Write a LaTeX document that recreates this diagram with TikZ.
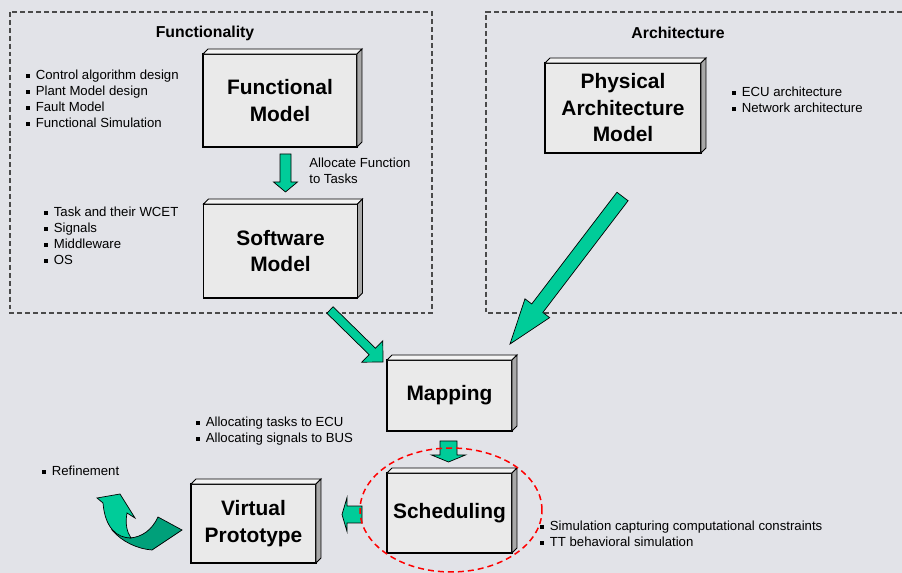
\documentclass[tikz,border=0pt]{standalone}
\usepackage{fontspec}
\setmainfont{Liberation Sans}
\usetikzlibrary{calc,positioning}
\definecolor{bggray}{HTML}{E2E3E8}
\definecolor{facegray}{HTML}{EAEAEA}
\definecolor{sidegray}{HTML}{A8A8A8}
\definecolor{topgray}{HTML}{F4F4F4}
\definecolor{arrgreen}{HTML}{00CC99}
\definecolor{arrdark}{HTML}{00A07A}
\definecolor{framegray}{HTML}{4A4A4A}

% small square bullet
\newcommand{\sq}{\raisebox{0.32ex}{\rule{2.1pt}{2.1pt}}\hspace{3.3pt}}
% block arrow: tail, tip, shaft half width, head half width, head length
\newcommand{\fatarrow}[5]{%
  \path ($(#2)!#5!(#1)$) coordinate (hb);
  \draw[fatarr] ($(#1)!#3!90:(#2)$) -- ($(hb)!#3!90:(#2)$) -- ($(hb)!#4!90:(#2)$) -- (#2)
    -- ($(hb)!#4!-90:(#2)$) -- ($(hb)!#3!-90:(#2)$) -- ($(#1)!#3!-90:(#2)$) -- cycle;}

\begin{document}
\begin{tikzpicture}[
    x=0.02cm, y=-0.02cm,
    modbox/.style={rectangle, draw=black, fill=facegray, line width=0.6pt, inner sep=0pt, outer sep=0pt,
                   align=center, font=\fontsize{11.9}{15.1}\selectfont\bfseries},
    frame/.style={draw=framegray, dash pattern=on 2.8pt off 1.7pt, line width=0.6pt},
    title/.style={font=\fontsize{9}{11}\selectfont\bfseries},
    bullets/.style={align=left, inner sep=0pt, anchor=north west, font=\fontsize{7.5}{9.1}\selectfont},
    fatarr/.style={draw=black, fill=arrgreen, line width=0.4pt},
    bevel/.style={draw=black, line width=0.5pt}
]
\fill[bggray] (0,0) rectangle (902,573);
\useasboundingbox (0,0) rectangle (902,573);

% Dashed frames
\draw[frame] (10,12) rectangle (432,313);
\draw[frame] (902,12) -- (486,12) -- (486,313) -- (902,313);
\node[title] (func) at (205,33) {Functionality};
\node[title] (arch) at (678,33) {Architecture};

% Model boxes
\node[modbox, minimum width=3.08cm, minimum height=1.86cm] (fm) at (280,100.5) {Functional\\Model};
\node[modbox, minimum width=3.08cm, minimum height=1.88cm] (sm) at (280.5,251) {Software\\Model};
\node[modbox, minimum width=3.12cm, minimum height=1.8cm] (pam) at (623,108) {Physical\\Architecture\\Model};
\node[modbox, minimum width=2.5cm, minimum height=1.42cm] (map) at (449.5,395.5) {Mapping};
\node[modbox, minimum width=2.5cm, minimum height=1.6cm] (sch) at (449.5,513) {Scheduling};
\node[modbox, minimum width=2.5cm, minimum height=1.58cm] (vp) at (253.5,523.5) {Virtual\\Prototype};

\foreach \n in {fm,sm,pam,map,sch,vp}{
  \draw[bevel, fill=topgray] (\n.north west) -- ++(5,-5) -- ($(\n.north east)+(5,-5)$) -- (\n.north east) -- cycle;
  \draw[bevel, fill=sidegray] (\n.north east) -- ++(5,-5) -- ($(\n.south east)+(5,-5)$) -- (\n.south east) -- cycle;
}

% Bullet lists
\node[bullets] (fmlist) at (26,70) {\sq Control algorithm design\\ \sq Plant Model design\\ \sq Fault Model\\ \sq Functional Simulation};
\node[bullets] (alloc) at (309,158) {Allocate Function\\to Tasks};
\node[bullets] (smlist) at (44,207) {\sq Task and their WCET\\ \sq Signals\\ \sq Middleware\\ \sq OS};
\node[bullets] (pamlist) at (732,87) {\sq ECU architecture\\ \sq Network architecture};
\node[bullets] (maplist) at (196,417) {\sq Allocating tasks to ECU\\ \sq Allocating signals to BUS};
\node[bullets] (ref) at (42,466) {\sq Refinement};
\node[bullets] (schlist) at (540,521) {\sq Simulation capturing computational constraints\\ \sq TT behavioral simulation};

% Block arrows
\coordinate (a1t) at (285.5,154);  \coordinate (a1h) at (285.5,192);
\coordinate (a2t) at (330,310);    \coordinate (a2h) at (383,362);
\coordinate (a3t) at (622.5,196.5);\coordinate (a3h) at (510,344);
\coordinate (a4t) at (448.5,441);  \coordinate (a4h) at (448.5,462);
\coordinate (a5t) at (362,514.5);  \coordinate (a5h) at (342,514.5);
\fatarrow{a1t}{a1h}{0.11cm}{0.24cm}{0.2cm}
\fatarrow{a2t}{a2h}{0.09cm}{0.3cm}{0.3cm}
\fatarrow{a3t}{a3h}{0.14cm}{0.31cm}{0.9cm}
\fatarrow{a4t}{a4h}{0.17cm}{0.34cm}{0.14cm}
\fatarrow{a5t}{a5h}{0.17cm}{0.34cm}{0.1cm}

% Refinement loop
\draw[fatarr, fill=arrdark] (112,530) .. controls (122,542) and (138,549) .. (152,550) -- (182,530) -- (158,517)
  .. controls (152,530) and (142,537) .. (130,538) -- cycle;
\draw[fatarr] (103,503) -- (97,498) -- (120,494) -- (135,518) -- (127,513)
  .. controls (125,524) and (127,532) .. (131,538) .. controls (117,538) and (105,528) .. (103,503) -- cycle;

% Scheduling scope
\draw[red, line width=0.85pt, dash pattern=on 3.4pt off 2.3pt] (451,510) ellipse [x radius=1.82cm, y radius=1.24cm];
\end{tikzpicture}
\end{document}
